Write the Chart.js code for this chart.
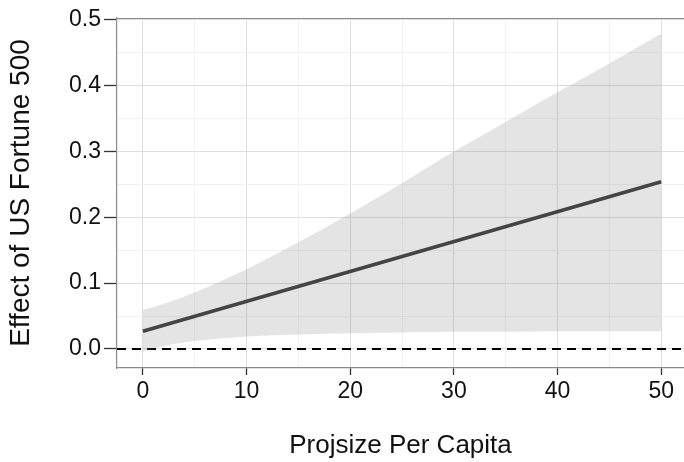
<!DOCTYPE html>
<html>
<head>
<meta charset="utf-8">
<script src="https://cdn.jsdelivr.net/npm/chart.js@4.4.1/dist/chart.umd.min.js"></script>
<style>
  html, body { margin: 0; padding: 0; background: #fff; }
  #wrap { width: 684px; height: 462px; }
</style>
</head>
<body>
<div id="wrap"><canvas id="effectChart" width="684" height="462"></canvas></div>
<script>
// values
const bandX = [0, 2.5, 5, 7.5, 10, 15, 20, 25, 30, 35, 40, 45, 50];
const bandUpper = [0.059, 0.071, 0.086, 0.103, 0.121, 0.162, 0.206, 0.252, 0.300, 0.345, 0.390, 0.434, 0.479];
const bandLower = [-0.004, 0.006, 0.012, 0.016, 0.019, 0.022, 0.024, 0.025, 0.026, 0.026, 0.027, 0.027, 0.027];
const lineX = [0, 50];
const lineY = [0.027, 0.254];
const refLineY = 0;

const xMajor = [0, 10, 20, 30, 40, 50];
const xMinor = [5, 15, 25, 35, 45];
const yMajor = [0, 0.1, 0.2, 0.3, 0.4, 0.5];
const yMinor = [0.05, 0.15, 0.25, 0.35, 0.45];

const FONT = "'Liberation Sans', Arial, sans-serif";
const isMajor = (list, v) => list.some(m => Math.abs(m - v) < 1e-9);
const pts = (xs, ys) => xs.map((x, i) => ({ x, y: ys[i] }));

const topBorder = {
  id: 'topBorder',
  afterDraw(chart) {
    const a = chart.chartArea, ctx = chart.ctx;
    ctx.save();
    ctx.strokeStyle = '#8a8a8a';
    ctx.lineWidth = 1.2;
    ctx.beginPath();
    ctx.moveTo(a.left, a.top + 0.5);
    ctx.lineTo(a.right, a.top + 0.5);
    ctx.stroke();
    ctx.restore();
  }
};

function gridFor(major, len) {
  return {
    color: ctx => ctx.tick && isMajor(major, ctx.tick.value) ? '#dedede' : '#f1f1f1',
    lineWidth: 1,
    tickColor: ctx => ctx.tick && isMajor(major, ctx.tick.value) ? '#333' : 'rgba(0,0,0,0)',
    tickLength: len,
    tickWidth: 1.3
  };
}

new Chart(document.getElementById('effectChart'), {
  type: 'line',
  data: {
    datasets: [
      {
        label: 'upper',
        data: pts(bandX, bandUpper),
        borderWidth: 0, pointRadius: 0, cubicInterpolationMode: 'monotone',
        backgroundColor: 'rgba(130,130,130,0.22)',
        fill: '+1'
      },
      {
        label: 'lower',
        data: pts(bandX, bandLower),
        borderWidth: 0, pointRadius: 0, cubicInterpolationMode: 'monotone', fill: false
      },
      {
        label: 'effect',
        data: pts(lineX, lineY),
        borderColor: '#333333', borderWidth: 3.6, pointRadius: 0, fill: false
      },
      {
        label: 'zero',
        data: [{ x: -2.5, y: refLineY }, { x: 52.2, y: refLineY }],
        borderColor: '#000', borderWidth: 2, borderDash: [9, 6], pointRadius: 0, fill: false
      }
    ]
  },
  options: {
    responsive: false,
    animation: false,
    layout: { padding: { top: 18, right: 0, left: 0, bottom: 0 } },
    plugins: { legend: { display: false }, tooltip: { enabled: false } },
    scales: {
      x: {
        type: 'linear', min: -2.5, max: 52.2,
        afterBuildTicks: s => { s.ticks = [...xMajor, ...xMinor].sort((a, b) => a - b).map(v => ({ value: v })); },
        afterFit: s => { s.height = 94; },
        grid: gridFor(xMajor, 7),
        border: { color: '#8a8a8a', width: 1.2 },
        ticks: {
          autoSkip: false, maxRotation: 0, padding: 3,
          color: '#111', font: { family: FONT, size: 23 },
          callback: v => isMajor(xMajor, v) ? String(v) : ''
        },
        title: {
          display: true, text: 'Projsize Per Capita', color: '#111',
          font: { family: FONT, size: 26 }, padding: { top: 0, bottom: 1 }
        }
      },
      y: {
        type: 'linear', min: -0.029, max: 0.503,
        afterBuildTicks: s => { s.ticks = [...yMajor, ...yMinor].sort((a, b) => a - b).map(v => ({ value: v })); },
        afterFit: s => { s.width = 117; },
        grid: gridFor(yMajor, 13),
        border: { color: '#8a8a8a', width: 1.2 },
        ticks: {
          autoSkip: false, padding: 3,
          color: '#111', font: { family: FONT, size: 23 },
          callback: v => isMajor(yMajor, v) ? v.toFixed(1) : ''
        },
        title: {
          display: true, text: 'Effect of US Fortune 500', color: '#111',
          font: { family: FONT, size: 28 }, padding: { top: 4, bottom: 0 }
        }
      }
    }
  },
  plugins: [topBorder]
});
</script>
</body>
</html>
